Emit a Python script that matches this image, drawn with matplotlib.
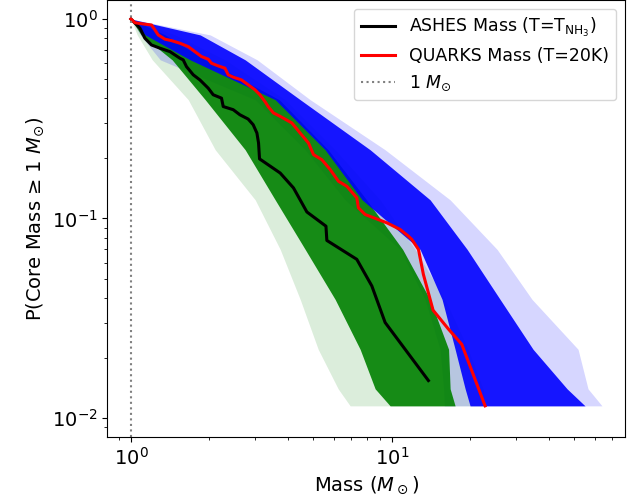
import numpy as np
import matplotlib
matplotlib.use("Agg")
import matplotlib.pyplot as plt

# Observed cumulative core-mass distributions, P(M >= m), normalised at 1 Msun
ashes_mass = [1.0, 1.083, 1.131, 1.199, 1.291, 1.411, 1.540, 1.586, 1.633, 1.733,
              1.838, 1.978, 2.067, 2.224, 2.258, 2.466, 2.616, 2.814, 2.942, 3.040,
              3.084, 3.111, 3.733, 4.198, 4.725, 5.591, 5.636, 7.341, 8.382, 9.426,
              13.81]
ashes_prob = [1.0, 0.899, 0.801, 0.741, 0.714, 0.686, 0.636, 0.624, 0.577, 0.525,
              0.495, 0.450, 0.417, 0.401, 0.364, 0.351, 0.331, 0.315, 0.295, 0.268,
              0.239, 0.199, 0.169, 0.1423, 0.1078, 0.0915, 0.0776, 0.0624, 0.0459,
              0.0301, 0.0154]

quarks_mass = [1.0, 1.036, 1.115, 1.199, 1.236, 1.272, 1.350, 1.431, 1.540, 1.658,
               1.759, 1.864, 1.978, 2.036, 2.160, 2.292, 2.360, 2.466, 2.653, 2.814,
               2.987, 3.121, 3.262, 3.357, 3.518, 3.733, 4.140, 4.453, 4.792, 5.009,
               5.394, 5.802, 6.244, 6.724, 7.341, 7.447, 7.901, 9.59, 10.76, 11.58,
               11.93, 12.65, 13.21, 14.39, 16.48, 18.54, 22.78]
quarks_prob = [1.0, 0.958, 0.944, 0.933, 0.881, 0.832, 0.792, 0.779, 0.756, 0.727,
               0.686, 0.648, 0.629, 0.600, 0.582, 0.567, 0.525, 0.511, 0.495, 0.468,
               0.442, 0.417, 0.386, 0.364, 0.338, 0.325, 0.301, 0.268, 0.239, 0.209,
               0.197, 0.176, 0.1536, 0.1450, 0.1269, 0.1131, 0.1047, 0.0950, 0.0881,
               0.0815, 0.0785, 0.0700, 0.0525, 0.0347, 0.0279, 0.0234, 0.0115]

# Spread of the resampled distributions: mass range covered at each probability level
env_prob = [1.0, 0.832, 0.624, 0.394, 0.221, 0.124, 0.070, 0.0393, 0.0221, 0.0140, 0.0115]

green_lo_all = [1.0, 1.057, 1.207, 1.658, 2.104, 2.994, 3.733, 4.454, 5.220, 6.227, 6.922]
green_lo_core = [1.0, 1.095, 1.439, 1.926, 2.741, 3.572, 4.654, 6.064, 7.560, 8.630, 9.851]
green_hi_core = [1.0, 1.353, 1.926, 3.700, 5.700, 8.000, 11.00, 14.00, 16.50, 16.73, 17.48]
green_hi_all = [1.0, 1.478, 2.298, 3.902, 6.064, 9.020, 12.28, 16.00, 19.61, 22.38, 22.78]

blue_lo_all = [1.0, 1.085, 1.295, 2.994, 4.654, 6.624, 10.76, 13.41, 15.31, 15.80, 15.90]
blue_lo_core = [1.0, 1.134, 1.687, 3.572, 5.551, 7.695, 12.83, 15.58, 17.48, 19.10, 19.95]
blue_hi_core = [1.0, 1.843, 2.741, 4.454, 8.259, 14.02, 19.44, 26.00, 34.78, 46.96, 55.03]
blue_hi_all = [1.0, 2.013, 3.048, 4.864, 9.426, 16.73, 25.32, 34.47, 51.74, 56.50, 63.93]

fig = plt.figure(figsize=(6.36, 4.96), dpi=100)
ax = fig.add_axes([0.169, 0.119, 0.8137, 0.881])

# resampled ensembles
ax.fill_betweenx(env_prob, green_lo_all, green_hi_all, color="green", alpha=0.14, lw=0)
ax.fill_betweenx(env_prob, blue_lo_all, blue_hi_all, color="blue", alpha=0.16, lw=0)
ax.fill_betweenx(env_prob, green_lo_core, green_hi_core, color="green", alpha=0.9, lw=0)
ax.fill_betweenx(env_prob, blue_lo_core, blue_hi_core, color="blue", alpha=0.9, lw=0)

ax.plot(ashes_mass, ashes_prob, color="black", lw=2.2,
        label=r"ASHES Mass (T=T$_{\mathrm{NH_3}}$)")
ax.plot(quarks_mass, quarks_prob, color="red", lw=2.2,
        label="QUARKS Mass (T=20K)")
ax.axvline(1.0, color="gray", ls=":", lw=1.5, label=r"1 $M_{\odot}$")

ax.set_xscale("log")
ax.set_yscale("log")
ax.set_xlim(0.813, 78.3)
ax.set_ylim(0.00803, 1.245)

ax.set_xlabel(r"Mass ($M_\odot$)", fontsize=14)
ax.set_ylabel(r"P(Core Mass ≥ 1 $M_{\odot}$)", fontsize=14)
ax.tick_params(axis="both", which="major", labelsize=14)

ax.legend(loc="upper right", fontsize=12.5)

fig.savefig("out.png", dpi=100)
